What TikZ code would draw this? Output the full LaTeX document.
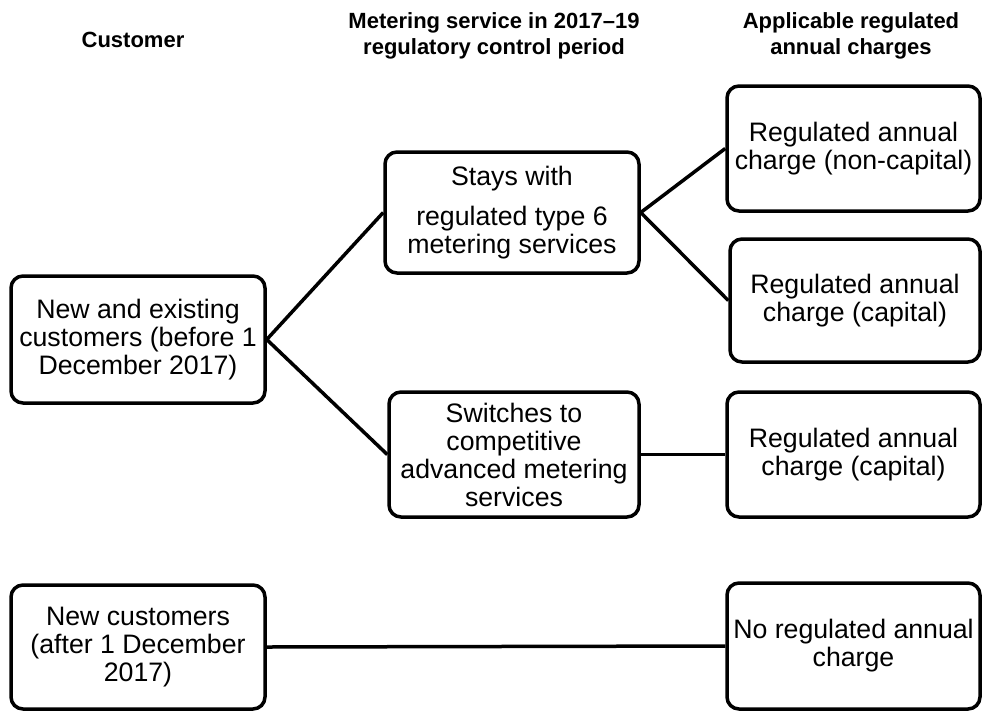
\documentclass[tikz,border=0pt]{standalone}
\usepackage{fontspec}
\setmainfont{Liberation Sans}
\newfontfamily\bodyfam{Liberation Sans}
\begin{document}
\begin{tikzpicture}[x=1pt,y=-1pt,
  box/.style={draw, line width=3.5pt, rounded corners=12pt, align=center, inner sep=0pt,
    font=\bodyfam\fontsize{26.7}{28}\selectfont},
  hdr/.style={align=center, inner sep=0pt, font=\bfseries\fontsize{22}{26}\selectfont},
  conn/.style={line width=3.5pt}]
\useasboundingbox (0,0) rectangle (985,713);
% headers
\node[hdr] (h1) at (133,40) {Customer};
\node[hdr] (h2) at (494,36) {Metering service in 2017--19\\regulatory control period};
\node[hdr] (h3) at (851,36) {Applicable regulated\\annual charges};
% boxes
\node[box, minimum width=254pt, minimum height=127pt] (A) at (138,339.5) {New and existing\\customers (before 1\\December 2017)};
\node[box, minimum width=254pt, minimum height=121pt] (B) at (512,212.5) {Stays with\\[12pt]regulated type 6\\metering services};
\node[box, minimum width=250pt, minimum height=125pt] (C) at (514,454.5) {Switches to\\competitive\\advanced metering\\services};
\node[box, minimum width=253pt, minimum height=125pt] (R1) at (853.5,148.5) {Regulated annual\\charge (non-capital)};
\node[box, minimum width=250pt, minimum height=123pt] (R2) at (855,300.5) {Regulated annual\\charge (capital)};
\node[box, minimum width=253pt, minimum height=125pt] (R3) at (853.5,454.5) {Regulated annual\\charge (capital)};
\node[box, minimum width=254pt, minimum height=124pt] (D) at (138,647) {New customers\\(after 1 December\\2017)};
\node[box, minimum width=253pt, minimum height=126pt] (E) at (853.5,646) {No regulated annual\\charge};
% connectors
\draw[conn] (A.east) -- (B.west);
\draw[conn] (A.east) -- (C.west);
\draw[conn] (B.east) -- (R1.west);
\draw[conn] (B.east) -- (R2.west);
\draw[conn] (C.east) -- (R3.west);
\draw[conn] (D.east) -- (E.west);
\end{tikzpicture}
\end{document}
